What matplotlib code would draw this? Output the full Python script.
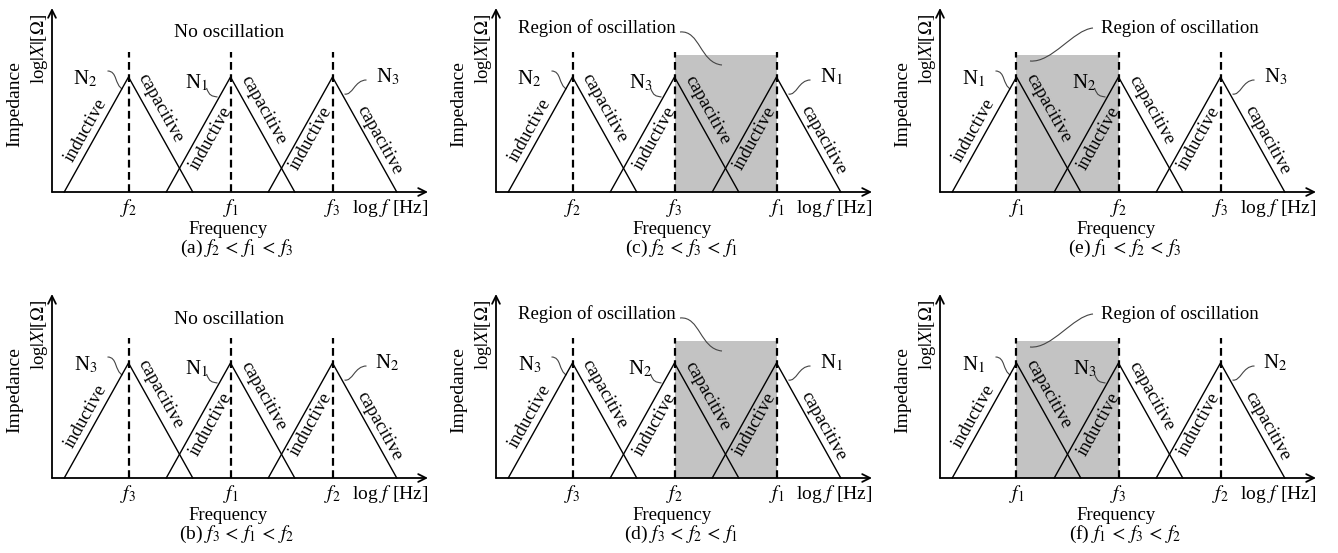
import numpy as np
import matplotlib
matplotlib.use('Agg')
import matplotlib.pyplot as plt
from matplotlib.path import Path
from matplotlib.patches import PathPatch

plt.rcParams['font.family'] = ['Liberation Serif', 'DejaVu Serif']
plt.rcParams['mathtext.fontset'] = 'stix'
plt.rcParams['font.size'] = 13.5

# chart data
panel_tags = ['(a)', '(b)', '(c)', '(d)', '(e)', '(f)']
# which resonator N_k sits at each of the three peaks (left to right)
peak_order = [[2, 1, 3], [3, 1, 2], [2, 3, 1], [3, 2, 1], [1, 2, 3], [1, 3, 2]]
# shaded region between two peaks (indexes) or None
shade_span = [None, None, (1, 2), (1, 2), (0, 1), (0, 1)]
peak_logf = [0.75, 1.75, 2.75]
half_width = 0.63
peak_height = 1.0
dash_top = 1.22
shade_top = 1.19

W, H = 1338, 553
XU, YU = 102.0, 115.0   # pixels per data unit
col_left = [52, 496, 940]
row_axis = [192, 478]
grid_pos = [(0, 0), (1, 0), (0, 1), (1, 1), (0, 2), (1, 2)]

fig = plt.figure(figsize=(W / 100, H / 100), dpi=100)


def px(dx, dy):
    return dx / XU, dy / YU


def leader(ax, p0, p3, c1, c2):
    verts = [p0, (p0[0] + c1[0], p0[1] + c1[1]), (p3[0] + c2[0], p3[1] + c2[1]), p3]
    verts = [px(*v) for v in verts]
    path = Path(verts, [Path.MOVETO, Path.CURVE4, Path.CURVE4, Path.CURVE4])
    ax.add_patch(PathPatch(path, fc='none', ec='#444444', lw=0.8, clip_on=False))


# label offsets from each peak in pixels (x right, y up)
ind_off = [(-43, -53), (-20, -61), (-22, -61)]
cap_off = [(32, -31), (33, -33), (47, -63)]
n_off = [(-43, -2), (-34, -6), (55, 0)]

for i in range(6):
    r, c = grid_pos[i]
    left = col_left[c]
    base = row_axis[r]
    ax = fig.add_axes([left / W, (H - base) / H, 376 / W, 184 / H])
    xmax, ymax = 376 / XU, 184 / YU
    ax.set_xlim(0, xmax)
    ax.set_ylim(0, ymax)
    ax.axis('off')

    p0 = ax.transData.transform((0, 0))
    p1 = ax.transData.transform((half_width, peak_height))
    ang = np.degrees(np.arctan2(p1[1] - p0[1], p1[0] - p0[0]))

    if shade_span[i] is not None:
        a, b = shade_span[i]
        ax.fill_between([peak_logf[a], peak_logf[b]], 0, shade_top,
                        color='#c3c3c3', lw=0, zorder=0)

    order = peak_order[i]
    for k, f in enumerate(peak_logf):
        ax.plot([f - half_width, f, f + half_width], [0, peak_height, 0],
                color='black', lw=1.0, clip_on=False, zorder=2)
        ax.plot([f, f], [0, dash_top], color='black', lw=1.6,
                ls=(0, (3.5, 2)), clip_on=False, zorder=3)
        dx, dy = px(*ind_off[k])
        ax.text(f + dx, peak_height + dy, 'inductive', rotation=ang,
                rotation_mode='anchor', ha='center', va='center', zorder=4)
        dx, dy = px(*cap_off[k])
        ax.text(f + dx, peak_height + dy, 'capacitive', rotation=-ang,
                rotation_mode='anchor', ha='center', va='center', zorder=4)
        dx, dy = px(*n_off[k])
        ax.text(f + dx, peak_height + dy, r'N$_{%d}$' % order[k], fontsize=15,
                ha='center', va='center')
        ax.text(f, -16 / YU, r'$f_{%d}$' % order[k], fontsize=14,
                ha='center', va='center')

    # leaders from N labels to the curves
    f0, f1, f2 = [v * XU for v in peak_logf]
    h = peak_height * YU
    leader(ax, (f0 - 21, h + 6), (f0 - 6, h - 12), (10, 0), (-8, 4))
    leader(ax, (f1 - 24, h - 11), (f1 - 13, h - 20), (3, -8), (-6, 1))
    leader(ax, (f2 + 34, h - 3), (f2 + 12, h - 17), (-12, 0), (8, -2))

    # axes with arrows
    ax.annotate('', xy=(xmax, 0), xytext=(0, 0),
                arrowprops=dict(arrowstyle='->', lw=1.3, color='black',
                                shrinkA=0, shrinkB=0, mutation_scale=14))
    ax.annotate('', xy=(0, ymax), xytext=(0, 0),
                arrowprops=dict(arrowstyle='->', lw=1.3, color='black',
                                shrinkA=0, shrinkB=0, mutation_scale=14))

    ax.text(xmax, -16 / YU, r'log $f$ [Hz]', fontsize=14, ha='right', va='center')
    ax.text(176 / XU, -38 / YU, 'Frequency', ha='center', va='center')
    ax.text(185 / XU, -56 / YU,
            panel_tags[i] + r' $f_{%d}\,<\,f_{%d}\,<\,f_{%d}$' % tuple(order),
            fontsize=14, ha='center', va='center')
    ax.text(-12 / XU, 143 / YU, r'log$|X|$[$\Omega$]', rotation=90,
            ha='center', va='center')
    ax.text(-37 / XU, 88 / YU, 'Impedance', rotation=90, fontsize=14,
            ha='center', va='center')

    if shade_span[i] is None:
        ax.text(177 / XU, 159 / YU, 'No oscillation', fontsize=14,
                ha='center', va='center')
    elif shade_span[i] == (1, 2):
        ax.text(101 / XU, 164 / YU, 'Region of oscillation',
                ha='center', va='center')
        leader(ax, (184, 160), (226, 127), (20, 2), (-22, 2))
    else:
        ax.text(240 / XU, 164 / YU, 'Region of oscillation',
                ha='center', va='center')
        leader(ax, (153, 164), (90, 131), (-20, -2), (22, -2))

fig.savefig('out.png', dpi=100)
